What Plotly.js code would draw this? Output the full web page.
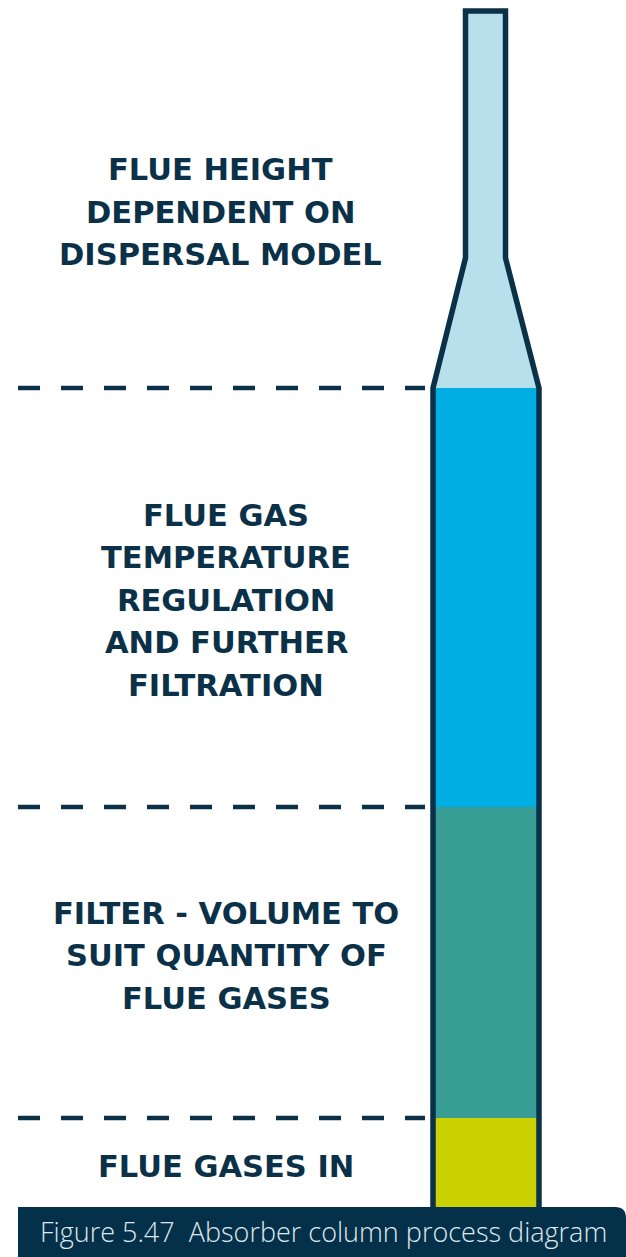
<!DOCTYPE html>
<html>
<head>
<meta charset="utf-8">
<script src="https://cdn.plot.ly/plotly-3.0.1.min.js"></script>
<style>html,body{margin:0;padding:0;background:#fff;}#chart{width:626px;height:1257px;}</style>
</head>
<body>
<div id="chart"></div>
<script>
// Stage labels (top to bottom), one entry per line
const stageLabels = [
  ["FLUE HEIGHT", "DEPENDENT ON", "DISPERSAL MODEL"],
  ["FLUE GAS", "TEMPERATURE", "REGULATION", "AND FURTHER", "FILTRATION"],
  ["FILTER - VOLUME TO", "SUIT QUANTITY OF", "FLUE GASES"],
  ["FLUE GASES IN"]
];
// Stage boundaries along the column (diagram units, measured from top)
const stageTops = [11, 388, 807, 1118];
const stageBottoms = [388, 807, 1118, 1212];
const stageColors = ["#b8e0ec", "#00aee3", "#389d95", "#cbd100"];
const dividerLevels = [388, 807, 1118];
const captionText = "Figure 5.47  Absorber column process diagram";

const NAVY = "#0b3148";
// column geometry (layout constants)
const colL = 433, colR = 539, flueL = 465.5, flueR = 505.5, taperY = 258;

const traces = [];
stageTops.forEach((top, i) => {
  const bot = stageBottoms[i];
  let xs, ys;
  if (i === 0) {
    xs = [flueL, flueR, flueR, colR, colL, flueL, flueL];
    ys = [top, top, taperY, bot, bot, taperY, top];
  } else {
    xs = [colL, colR, colR, colL, colL];
    ys = [top, top, bot, bot, top];
  }
  traces.push({type: "scatter", mode: "lines", x: xs, y: ys, fill: "toself",
    fillcolor: stageColors[i], line: {width: 0, color: stageColors[i]}, hoverinfo: "skip"});
});
traces.push({type: "scatter", mode: "lines",
  x: [colL, colL, flueL, flueL, flueR, flueR, colR, colR],
  y: [1215, stageTops[1], taperY, stageTops[0], stageTops[0], taperY, stageTops[1], 1215],
  line: {color: NAVY, width: 5.5}, hoverinfo: "skip"});
dividerLevels.forEach(lv => {
  traces.push({type: "scatter", mode: "lines", x: [18, 425], y: [lv, lv],
    line: {color: NAVY, width: 4.5, dash: "22px,21px"}, hoverinfo: "skip"});
});

const annotations = [];
const lineGap = 42.5;
const labelX = [220, 226, 226, 226];
stageLabels.forEach((lines, i) => {
  const center = i === 0 ? 212 : (stageTops[i] + stageBottoms[i]) / 2 + (i === 3 ? 1 : (i === 1 ? 2.5 : -7));
  const n = lines.length;
  lines.forEach((t, j) => {
    annotations.push({x: labelX[i], y: center + (j - (n - 1) / 2) * lineGap, xref: "x", yref: "y",
      text: "<b>" + t + "</b>", showarrow: false, xanchor: "center", yanchor: "middle",
      font: {family: "DejaVu Sans", size: 30.5, color: NAVY}});
  });
});
annotations.push({x: 38, y: 1231, xref: "x", yref: "y", text: captionText, showarrow: false,
  xanchor: "left", yanchor: "middle", font: {family: "Open Sans", size: 27, weight: 300, color: "#dfe8ee"}});

const layout = {
  width: 626, height: 1257, margin: {l: 0, r: 0, t: 0, b: 0},
  paper_bgcolor: "#ffffff", plot_bgcolor: "#ffffff", showlegend: false,
  xaxis: {range: [0, 626], visible: false, fixedrange: true},
  yaxis: {range: [1257, 0], visible: false, fixedrange: true},
  shapes: [{type: "path", xref: "x", yref: "y", layer: "above",
    path: "M 18,1207 L 615,1207 Q 626,1207 626,1218 L 626,1257 L 18,1257 Z",
    fillcolor: "#043049", line: {width: 0}}],
  annotations: annotations
};
Plotly.newPlot("chart", traces, layout, {staticPlot: true, displayModeBar: false});
</script>
</body>
</html>
